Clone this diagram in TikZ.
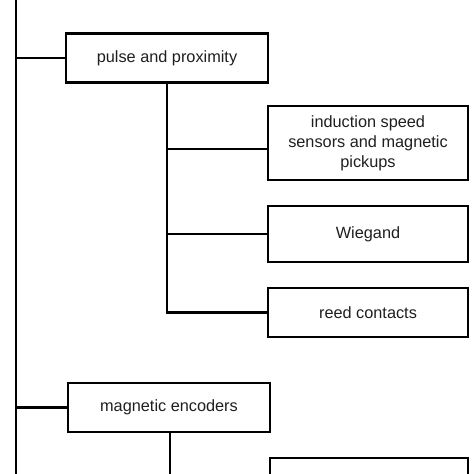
\documentclass[tikz,border=0pt]{standalone}
\usepackage{fontspec}
\setmainfont{Liberation Sans}
\begin{document}
\begin{tikzpicture}[x=1pt,y=-1pt,
  box/.style={draw=black,line width=2.3pt,rectangle,inner sep=0pt,align=center,
    font=\fontsize{16.3}{20}\selectfont,text=black!88},
  conn/.style={draw=black,line width=2.3pt}]
\useasboundingbox (0,0) rectangle (474,474);
\clip (0,0) rectangle (474,474);
\coordinate (top) at (16,-5);
\coordinate (bot) at (16,480);
\node[box,minimum width=202pt,minimum height=49pt] (pp) at (167,58) {pulse and proximity};
\node[box,minimum width=200pt,minimum height=74pt] (ind) at (368,143) {induction speed\\sensors and magnetic\\pickups};
\node[box,minimum width=200pt,minimum height=56pt] (wg) at (368,234) {Wiegand};
\node[box,minimum width=200pt,minimum height=49pt] (rc) at (368,312.5) {reed contacts};
\node[box,minimum width=202pt,minimum height=49pt] (me) at (169,407.5) {magnetic encoders};
\node[box,minimum width=198pt,minimum height=60pt] (nx) at (369,488) {};
\coordinate (meend) at (170,480);
\coordinate (indc) at ([yshift=-6pt]ind.west);
\draw[conn] (top) -- (bot);
\draw[conn] (top |- pp.west) -- (pp.west);
\draw[conn] (top |- me.west) -- (me.west);
\draw[conn] (pp.south) -- (pp.south |- rc.west) -- (rc.west);
\draw[conn] (pp.south |- indc) -- (indc);
\draw[conn] (pp.south |- wg.west) -- (wg.west);
\draw[conn] (me.south -| meend) -- (meend);
\end{tikzpicture}
\end{document}
